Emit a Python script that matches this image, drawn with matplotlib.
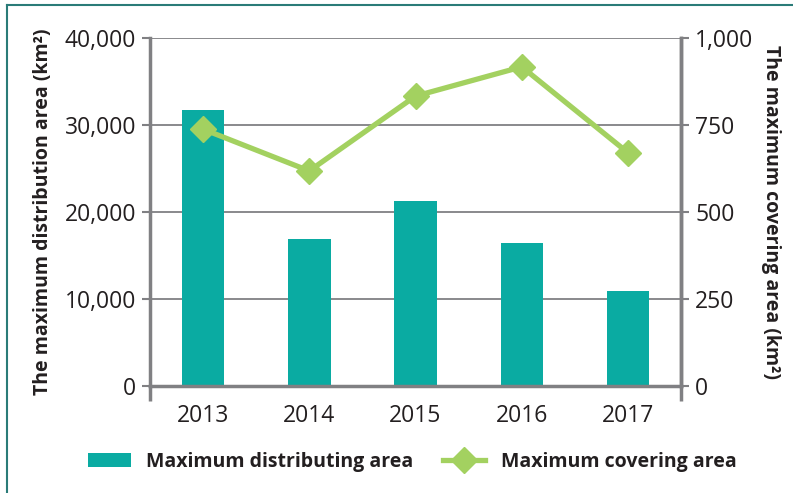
import matplotlib.pyplot as plt
from matplotlib.lines import Line2D
from matplotlib.ticker import FuncFormatter

plt.rcParams['font.family'] = ['Open Sans', 'DejaVu Sans']

# data
years = ["2013", "2014", "2015", "2016", "2017"]
distributing = [31700, 16900, 21300, 16450, 10900]
covering = [738, 618, 833, 917, 670]

teal = "#0aaba2"
green = "#a3d160"
grey = "#808083"
dark = "#231f20"

fig = plt.figure(figsize=(7.93, 4.93), dpi=100)
ax = fig.add_axes([0.189, 0.217, 0.670, 0.706])
x = range(len(years))
bars = ax.bar(x, distributing, width=0.4, color=teal, zorder=2,
              label="Maximum distributing area")
ax.set_xlim(-0.5, 4.5)
ax.set_ylim(0, 40000)
ax.set_yticks([0, 10000, 20000, 30000, 40000])
ax.yaxis.set_major_formatter(FuncFormatter(lambda v, p: f"{int(v):,}"))
ax.set_xticks(list(x))
ax.set_xticklabels(years)
ax.grid(axis="y", color=grey, linewidth=1.3, zorder=0)
ax.tick_params(axis="x", length=0, labelsize=16.5, pad=13, labelcolor=dark)
ax.tick_params(axis="y", length=6, width=1.5, color=grey, labelsize=16.5,
               pad=4, labelcolor=dark)
ax.set_xticks([-0.5, 4.5], minor=True)
ax.tick_params(axis="x", which="minor", length=11, width=2.5, color=grey)
for s in ["top"]:
    ax.spines[s].set_visible(False)
for s in ["left", "bottom", "right"]:
    ax.spines[s].set_color(grey)
    ax.spines[s].set_linewidth(2.5)
ax.set_ylabel("The maximum distribution area (km²)", fontsize=14,
              fontweight="bold", color=dark, labelpad=8)

ax2 = ax.twinx()
line, = ax2.plot(x, covering, color=green, linewidth=3.8, marker="D",
                 markersize=13, zorder=3, label="Maximum covering area")
ax2.set_ylim(0, 1000)
ax2.set_yticks([0, 250, 500, 750, 1000])
ax2.yaxis.set_major_formatter(FuncFormatter(lambda v, p: f"{int(v):,}"))
ax2.tick_params(axis="y", length=6, width=1.5, color=grey, labelsize=16.5,
                pad=4, labelcolor=dark)
for s in ["top", "left", "bottom"]:
    ax2.spines[s].set_visible(False)
ax2.spines["right"].set_color(grey)
ax2.spines["right"].set_linewidth(2.5)
ax2.set_ylabel("The maximum covering area (km²)", fontsize=14,
               fontweight="bold", color=dark, rotation=270, labelpad=20)

fig.legend([bars, line], ["Maximum distributing area", "Maximum covering area"],
           loc="center", bbox_to_anchor=(0.52, 0.063), ncol=2, frameon=False,
           prop={"size": 14, "weight": "bold"}, handlelength=2.2,
           columnspacing=1.5, labelcolor=dark)

# frame lines
fig.add_artist(Line2D([0.009, 1], [0.99, 0.99], color="#2a7b78", linewidth=1.5))
fig.add_artist(Line2D([0.009, 0.009], [0, 0.99], color="#2a7b78", linewidth=1.5))

fig.savefig("out.png", dpi=100)
